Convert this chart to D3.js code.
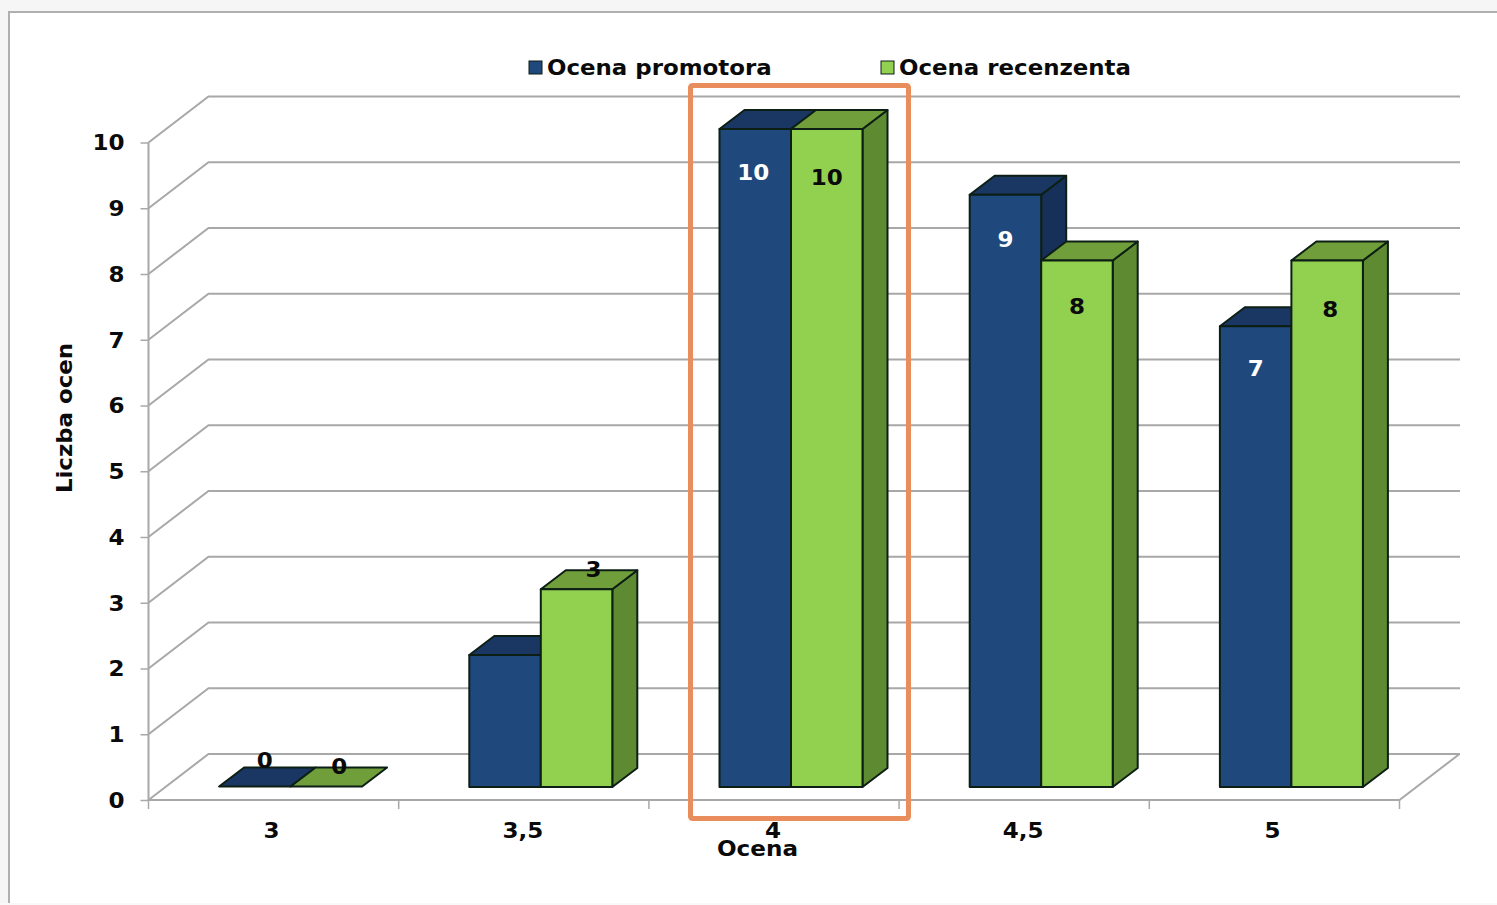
<!DOCTYPE html>
<html><head><meta charset="utf-8">
<script src="https://cdn.jsdelivr.net/npm/d3@7/dist/d3.min.js"></script>
<style>
html,body{margin:0;padding:0;background:#f6f6f6;overflow:hidden}
text{font-family:"DejaVu Sans",sans-serif;font-weight:bold;fill:#0a0a0a}
</style></head><body>
<script>
const categories = ["3","3,5","4","4,5","5"];
const promotor = [0,2,10,9,7];
const recenzent = [0,3,10,8,8];
const seriesNames = ["Ocena promotora","Ocena recenzenta"];
const yTicks = [0,1,2,3,4,5,6,7,8,9,10];
const xTitle = "Ocena", yTitle = "Liczba ocen";

// layout
const W=1497,H=905;
const depth={x:60,y:-46};            // wall depth
const barDepth={x:25,y:-19};         // bar depth
const barInset={x:17,y:-13};         // bar front plane from axis plane
const x=d3.scaleBand().domain(categories).range([148.5,1399.5]);
const y=d3.scaleLinear().domain([0,10]).range([800,142.5]);
const barW=71.5;

const colors=[
 {front:"#1f497d",top:"#1a3763",side:"#17305a",label:"#ffffff"},
 {front:"#92d050",top:"#6f9e3a",side:"#5e8a32",label:"#0a0a0a"}];
const stroke="#0d1f14";

// widen the glyphs a little: the source face is broader than DejaVu Sans Bold
function widen(sel,k){
  sel.each(function(){
    const len=this.getComputedTextLength();
    d3.select(this).attr("textLength",len*k).attr("lengthAdjust","spacingAndGlyphs");
  });
  return sel;
}

const svg=d3.select("body").append("svg").attr("width",W).attr("height",H).style("display","block");
svg.append("rect").attr("x",9).attr("y",12).attr("width",W).attr("height",H)
  .attr("fill","#fff").attr("stroke","#b0b0b0").attr("stroke-width",2);
svg.append("rect").attr("x",0).attr("y",903).attr("width",W).attr("height",2).attr("fill","#f9f9f9");

// gridlines: side wall + back wall
const grid=svg.append("g").attr("fill","none").attr("stroke","#a8a8a8").attr("stroke-width",2);
yTicks.forEach(t=>{
  const y0=y(t);
  grid.append("path").attr("d",`M${x.range()[0]},${y0}l${depth.x},${depth.y}H1460`);
});
grid.append("path").attr("d",`M${x.range()[1]},${y(0)}l${depth.x},${depth.y}`);
grid.append("path").attr("d",`M${x.range()[0]},${y(10)}V${y(0)}H${x.range()[1]}`);

// axes
const yAxis=d3.axisLeft(y).tickValues(yTicks).tickSize(8).tickFormat(d3.format("d"));
const gy=svg.append("g").attr("transform",`translate(${x.range()[0]},0)`).call(yAxis);
gy.select(".domain").remove();
gy.selectAll("line").attr("stroke","#a8a8a8").attr("stroke-width",1.5);
gy.selectAll("text").attr("x",-24).attr("dy","0.34em").style("font-size","21.5px").call(widen,1.07);

const xEdges=[...categories.map(c=>x(c)),x.range()[1]];
svg.append("g").selectAll("line").data(xEdges).join("line")
  .attr("x1",d=>d).attr("x2",d=>d).attr("y1",y(0)).attr("y2",y(0)+9)
  .attr("stroke","#a8a8a8").attr("stroke-width",1.5);
const xLabelDx=[-2,-1,-1,-1,-2];
svg.append("g").selectAll("text").data(categories).join("text")
  .attr("x",(d,i)=>x(d)+x.bandwidth()/2+xLabelDx[i]).attr("y",837.5)
  .attr("text-anchor","middle").style("font-size","21.5px").text(d=>d).call(widen,1.07);

// bars
function barGeom(v,i,s){
  const cx=x(categories[i])+x.bandwidth()/2+barInset.x;
  const x0=cx-barW+s*barW;
  const base=y(0)+barInset.y;
  const top=base-(y(0)-y(v))-0.5;
  return {x0,x1:x0+barW,base,top};
}
const series=[promotor,recenzent];
const layer=svg.append("g").attr("stroke",stroke).attr("stroke-width",2).attr("stroke-linejoin","round");
categories.forEach((c,i)=>{
  series.forEach((vals,s)=>{
    const g=barGeom(vals[i],i,s),col=colors[s],dx=barDepth.x,dy=barDepth.y;
    if(vals[i]>0)layer.append("path").attr("fill",col.side)
      .attr("d",`M${g.x1},${g.top}l${dx},${dy}V${g.base+dy}l${-dx},${-dy}Z`);
    layer.append("path").attr("fill",col.top)
      .attr("d",`M${g.x0},${g.top}l${dx},${dy}H${g.x1+dx}l${-dx},${-dy}Z`);
    if(vals[i]>0)layer.append("rect").attr("fill",col.front)
      .attr("x",g.x0).attr("y",g.top).attr("width",barW).attr("height",g.base-g.top);
  });
});

// value labels: placement offsets from the bar's top centre, per series
// (null: the reference shows no label for that bar)
const labelNudge=[
 [[10,-26],null,[-2,43],[0,45],[0,42]],
 [[13,-20],[17,-20],[0,48],[0,46],[3,49]]];
categories.forEach((c,i)=>{
  series.forEach((vals,s)=>{
    const v=vals[i],g=barGeom(v,i,s),n=labelNudge[s][i];
    if(!n)return;
    const t=svg.append("text").attr("x",(g.x0+g.x1)/2+n[0]).attr("y",g.top+n[1])
      .attr("dy","0.36em").attr("text-anchor","middle").style("font-size","21.5px").text(v).call(widen,1.07);
    t.style("fill",v===0||v===3?"#0a0a0a":colors[s].label);
  });
});

// legend
const legendX=[529,881],legendTextX=[547,899];
seriesNames.forEach((n,i)=>{
  svg.append("rect").attr("x",legendX[i]).attr("y",61).attr("width",13).attr("height",13)
    .attr("fill",colors[i].front).attr("stroke",stroke).attr("stroke-width",1);
  svg.append("text").attr("x",legendTextX[i]).attr("y",75).style("font-size","21px").text(n).call(widen,1.09);
});

// titles
svg.append("text").attr("x",757.5).attr("y",856).attr("text-anchor","middle").style("font-size","21px").text(xTitle).call(widen,1.1);
svg.append("text").attr("transform","translate(72,418) rotate(-90)").attr("text-anchor","middle").style("font-size","21px").text(yTitle).call(widen,1.09);

// highlight box
svg.append("rect").attr("x",690.5).attr("y",85.5).attr("width",218).attr("height",733).attr("rx",2)
  .attr("fill","none").attr("stroke","#ea8d5d").attr("stroke-width",5);
</script></body></html>
